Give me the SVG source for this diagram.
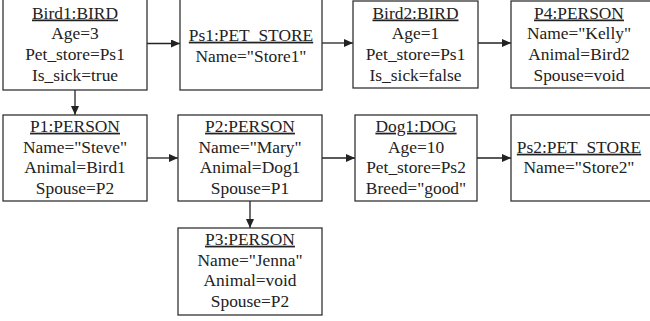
<svg xmlns="http://www.w3.org/2000/svg" width="650" height="321" viewBox="0 0 650 321">
  <defs>
    <marker id="arrow" markerWidth="9" markerHeight="8" refX="9" refY="4" orient="auto" markerUnits="userSpaceOnUse">
      <path d="M0,0 L9,4 L0,8 Z" fill="#222"/>
    </marker>
  </defs>
  <style>
    .box { fill: #fff; stroke: #333; stroke-width: 1.3; }
    .edge { fill: none; stroke: #222; stroke-width: 1.3; marker-end: url(#arrow); }
    text { font-family: "Liberation Serif", "Times New Roman", serif; font-size: 17.4px; fill: #222; text-anchor: middle; }
    .title { text-decoration: underline; }
  </style>
  <rect width="650" height="321" fill="#fff"/>

  <g id="connectors">
    <line class="edge" x1="147" y1="43.5" x2="180" y2="43.5"/>
    <line class="edge" x1="322" y1="43" x2="353" y2="43"/>
    <line class="edge" x1="478" y1="43" x2="511" y2="43"/>
    <line class="edge" x1="75" y1="90" x2="75" y2="115"/>
    <line class="edge" x1="147" y1="158" x2="178" y2="158"/>
    <line class="edge" x1="322" y1="158" x2="355" y2="158"/>
    <line class="edge" x1="477" y1="158" x2="511" y2="158"/>
    <line class="edge" x1="250" y1="201" x2="250" y2="228"/>
  </g>

  <g id="bird1">
    <rect class="box" x="3" y="-1" width="144" height="91"/>
    <text class="title" x="75" y="18.5">Bird1:BIRD</text>
    <text x="75" y="39.3">Age=3</text>
    <text x="75" y="60">Pet_store=Ps1</text>
    <text x="75" y="81">Is_sick=true</text>
  </g>

  <g id="ps1">
    <rect class="box" x="180" y="-1" width="142" height="91"/>
    <text class="title" x="251" y="40.7">Ps1:PET_STORE</text>
    <text x="251" y="61.5">Name="Store1"</text>
  </g>

  <g id="bird2">
    <rect class="box" x="353" y="1" width="125" height="87"/>
    <text class="title" x="415.5" y="18.5">Bird2:BIRD</text>
    <text x="415.5" y="39.3">Age=1</text>
    <text x="415.5" y="60">Pet_store=Ps1</text>
    <text x="415.5" y="81">Is_sick=false</text>
  </g>

  <g id="p4">
    <rect class="box" x="511" y="1" width="141" height="87"/>
    <text class="title" x="579" y="18.5">P4:PERSON</text>
    <text x="579" y="39.3">Name="Kelly"</text>
    <text x="579" y="60">Animal=Bird2</text>
    <text x="579" y="81">Spouse=void</text>
  </g>

  <g id="p1">
    <rect class="box" x="3" y="115" width="144" height="86"/>
    <text class="title" x="75" y="131.7">P1:PERSON</text>
    <text x="75" y="152.5">Name="Steve"</text>
    <text x="75" y="173.3">Animal=Bird1</text>
    <text x="75" y="194.1">Spouse=P2</text>
  </g>

  <g id="p2">
    <rect class="box" x="178" y="115" width="144" height="86"/>
    <text class="title" x="250" y="131.7">P2:PERSON</text>
    <text x="250" y="152.5">Name="Mary"</text>
    <text x="250" y="173.3">Animal=Dog1</text>
    <text x="250" y="194.1">Spouse=P1</text>
  </g>

  <g id="dog1">
    <rect class="box" x="355" y="115" width="122" height="86"/>
    <text class="title" x="416" y="131.7">Dog1:DOG</text>
    <text x="416" y="152.5">Age=10</text>
    <text x="416" y="173.3">Pet_store=Ps2</text>
    <text x="416" y="194.1">Breed="good"</text>
  </g>

  <g id="ps2">
    <rect class="box" x="511" y="115" width="141" height="86"/>
    <text class="title" x="579" y="152.7">Ps2:PET_STORE</text>
    <text x="579" y="173.3">Name="Store2"</text>
  </g>

  <g id="p3">
    <rect class="box" x="178" y="228" width="144" height="87"/>
    <text class="title" x="250" y="244.7">P3:PERSON</text>
    <text x="250" y="265.5">Name="Jenna"</text>
    <text x="250" y="286.3">Animal=void</text>
    <text x="250" y="307.1">Spouse=P2</text>
  </g>
</svg>
